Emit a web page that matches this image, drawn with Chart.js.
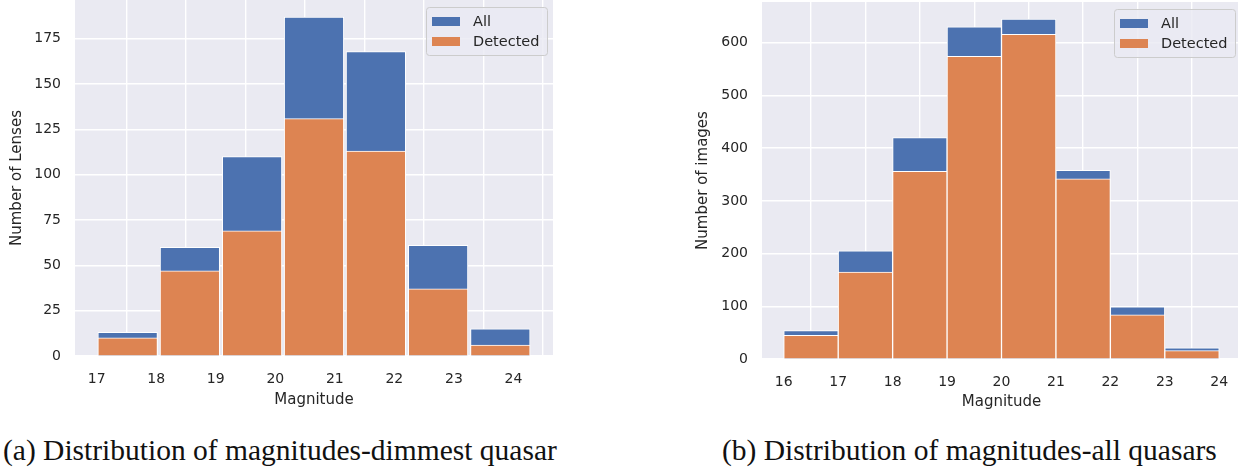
<!DOCTYPE html>
<html>
<head>
<meta charset="utf-8">
<script src="https://cdn.jsdelivr.net/npm/chart.js@4.4.1/dist/chart.umd.min.js"></script>
<style>
  html, body { margin: 0; padding: 0; background: #fff; overflow: hidden; width: 1238px; height: 471px; }
  canvas { position: absolute; top: 0; }
  #chartA { left: 0; }
  #chartB { left: 680px; }
  .caption { position: absolute; top: 433px; font-family: "Liberation Serif", serif; font-size: 29.5px; line-height: 34px; color: #111; white-space: nowrap; }
</style>
</head>
<body>
<canvas id="chartA" width="560" height="415"></canvas>
<canvas id="chartB" width="570" height="415"></canvas>
<div class="caption" style="left:3px">(a) Distribution of magnitudes-dimmest quasar</div>
<div class="caption" style="left:722px">(b) Distribution of magnitudes-all quasars</div>

<script>
// (a) dimmest quasar - bins from 17.0 to 24.3
var binEdgesA = [17.0, 18.04, 19.09, 20.13, 21.17, 22.21, 23.26, 24.3];
var allA = [13, 60, 110, 187, 168, 61, 15];
var detectedA = [10, 47, 69, 131, 113, 37, 6];
var xTicksA = [17, 18, 19, 20, 21, 22, 23, 24];
var yTicksA = [0, 25, 50, 75, 100, 125, 150, 175];

// (b) all quasars - bins 16..24
var binEdgesB = [16, 17, 18, 19, 20, 21, 22, 23, 24];
var allB = [54, 205, 420, 630, 645, 358, 99, 21];
var detectedB = [45, 165, 356, 574, 616, 342, 84, 16];
var xTicksB = [16, 17, 18, 19, 20, 21, 22, 23, 24];
var yTicksB = [0, 100, 200, 300, 400, 500, 600];

var legendLabels = ["All", "Detected"];
var BLUE = '#4C72B0';
var ORANGE = '#DD8452';
var TXT = '#262626';

Chart.defaults.font.family = 'DejaVu Sans';
Chart.defaults.color = TXT;

// bin centers -> bar points
function toPoints(edges, counts) {
	return counts.map(function (c, i) {
		return { x: (edges[i] + edges[i + 1]) / 2, y: c };
	});
}

// seaborn-like grey plot background
var bgPlugin = {
	id: 'plotBg',
	beforeDraw: function (chart) {
		var a = chart.chartArea, ctx = chart.ctx;
		ctx.save();
		ctx.fillStyle = '#EAEAF2';
		ctx.fillRect(a.left, a.top, a.right - a.left, a.bottom - a.top);
		ctx.restore();
	}
};

// legend box inside the top right corner
var legendPlugin = {
	id: 'innerLegend',
	afterDatasetsDraw: function (chart) {
		var a = chart.chartArea, ctx = chart.ctx;
		var w = 121, h = 48;
		var x = a.right - 6 - w, y = a.top + 7;
		ctx.save();
		ctx.beginPath();
		ctx.roundRect(x + 0.5, y + 0.5, w, h, 3);
		ctx.fillStyle = 'rgba(234,234,242,0.8)';
		ctx.fill();
		ctx.strokeStyle = '#cccccc';
		ctx.lineWidth = 1;
		ctx.stroke();
		var cols = [BLUE, ORANGE];
		ctx.font = '14.5px "DejaVu Sans"';
		ctx.textBaseline = 'middle';
		for (var i = 0; i < 2; i++) {
			var cy = y + 14 + i * 20;
			ctx.fillStyle = cols[i];
			ctx.fillRect(x + 6, cy - 4, 28, 9);
			ctx.fillStyle = TXT;
			ctx.fillText(legendLabels[i], x + 47, cy + 1);
		}
		ctx.restore();
	}
};

function makeHist(id, o) {
	var ctx = document.getElementById(id).getContext("2d");
	return new Chart(ctx, {
		type: 'bar',
		data: {
			datasets: [{
				label: legendLabels[0],
				data: toPoints(o.edges, o.all),
				backgroundColor: BLUE,
				borderColor: '#ffffff',
				borderWidth: 1,
				order: 2
			}, {
				label: legendLabels[1],
				data: toPoints(o.edges, o.detected),
				backgroundColor: ORANGE,
				borderColor: '#ffffff',
				borderWidth: 1,
				order: 1
			}]
		},
		options: {
			responsive: false,
			animation: false,
			devicePixelRatio: 1,
			grouped: false,
			barPercentage: 1,
			categoryPercentage: 1,
			layout: { autoPadding: false, padding: { top: o.padTop, right: o.padRight, left: 0, bottom: 0 } },
			scales: {
				x: {
					type: 'linear',
					offset: false,
					min: o.xMin,
					max: o.xMax,
					afterBuildTicks: function (axis) { axis.ticks = o.xTicks.map(function (v) { return { value: v }; }); },
					afterFit: function (axis) { axis.height = o.xAxisH; axis.paddingLeft = 0; axis.paddingRight = 0; },
					grid: { color: '#ffffff', lineWidth: 1.4, drawTicks: false },
					border: { display: false },
					ticks: { padding: 15, maxRotation: 0, font: { size: 14 } },
					title: { display: true, text: 'Magnitude', font: { size: 15 }, padding: { bottom: o.xTitlePad } }
				},
				y: {
					min: 0,
					max: o.yMax,
					afterBuildTicks: function (axis) { axis.ticks = o.yTicks.map(function (v) { return { value: v }; }); },
					afterFit: function (axis) { axis.width = o.yAxisW; axis.paddingTop = 0; axis.paddingBottom = 0; },
					grid: { color: '#ffffff', lineWidth: 1.4, drawTicks: false },
					border: { display: false },
					ticks: { padding: 14, font: { size: 14 } },
					title: { display: true, text: o.yTitle, font: { size: 15 }, padding: { top: o.yTitlePad } }
				}
			},
			plugins: {
				legend: { display: false },
				tooltip: { enabled: false }
			}
		},
		plugins: [bgPlugin, legendPlugin]
	});
}

makeHist("chartA", {
	edges: binEdgesA, all: allA, detected: detectedA,
	xTicks: xTicksA, yTicks: yTicksA,
	xMin: 16.635, xMax: 24.665, yMax: 196.4,
	padTop: 0, padRight: 7, xAxisH: 59, yAxisW: 75,
	xTitlePad: 6, yTitlePad: 8, yTitle: 'Number of Lenses'
});

makeHist("chartB", {
	edges: binEdgesB, all: allB, detected: detectedB,
	xTicks: xTicksB, yTicks: yTicksB,
	xMin: 15.6, xMax: 24.4, yMax: 677.3,
	padTop: 2, padRight: 9, xAxisH: 56, yAxisW: 82,
	xTitlePad: 4, yTitlePad: 14, yTitle: 'Number of images'
});
</script>
</body>
</html>
